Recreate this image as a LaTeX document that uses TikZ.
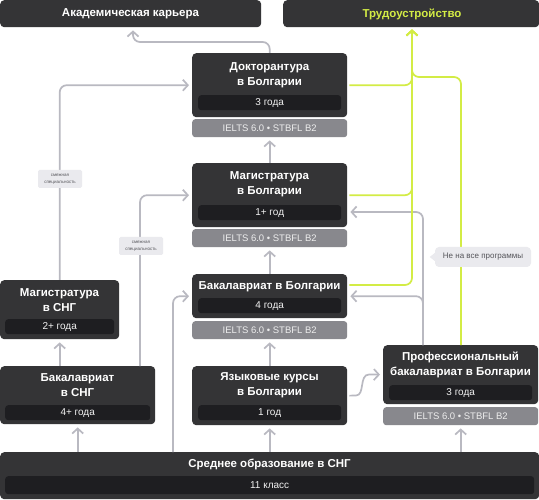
\documentclass[tikz,border=0pt]{standalone}
\usepackage{fontspec}
\setmainfont{Liberation Sans}
\usetikzlibrary{arrows.meta}
\definecolor{boxc}{HTML}{343436}
\definecolor{barc}{HTML}{1E1E21}
\definecolor{reqc}{HTML}{88888D}
\definecolor{reqt}{HTML}{EDEDED}
\definecolor{subt}{HTML}{F2F2F2}
\definecolor{linec}{HTML}{B9B9C1}
\definecolor{greenc}{HTML}{D3EC45}
\definecolor{notec}{HTML}{EAEAEE}
\definecolor{notet}{HTML}{55555A}
\tikzset{
  box/.style={fill=boxc, rounded corners=4pt, inner sep=0pt, anchor=north west},
  bar/.style={fill=barc, rounded corners=3pt, inner sep=0pt, anchor=north west, text=subt, font=\fontsize{10}{11}\selectfont},
  req/.style={fill=reqc, rounded corners=3pt, inner sep=0pt, anchor=north west, text=reqt, font=\fontsize{9.5}{10}\selectfont},
  ttl/.style={text=white, font=\bfseries\fontsize{11.5}{15}\selectfont, align=center, inner sep=0pt},
  conn/.style={draw=linec, line width=1.7pt, rounded corners=7pt, -{Straight Barb[length=5pt,width=11pt]}, shorten >=3pt},
  gconn/.style={draw=greenc, line width=1.7pt, rounded corners=7pt, -{Straight Barb[length=5pt,width=11pt]}, shorten >=2pt},
  lbl/.style={fill=notec, rounded corners=1.5pt, inner sep=0pt, text=notet, align=center, font=\fontsize{4.5}{6.5}\selectfont},
  note/.style={fill=notec, rounded corners=4pt, inner sep=0pt, text=notet, font=\fontsize{8}{9}\selectfont}
}
\begin{document}
\begin{tikzpicture}[x=1pt,y=-1pt]
\useasboundingbox[fill=white] (0,0) rectangle (539,500);
% column / row coordinates
\coordinate (x140) at (140,0);
\coordinate (x173) at (173,0);
\coordinate (x412) at (412,0);
\coordinate (x423) at (423,0);
\coordinate (x461) at (461,0);
\coordinate (y212) at (0,212);
\coordinate (y285) at (0,285);
\coordinate (y77) at (0,77);
\coordinate (k1) at (133,42);

% top boxes
\node[box, minimum width=261pt, minimum height=27pt] (acad) at (0,0) {};
\node[ttl] (acadt) at (130.5,14) {Академическая карьера};
\node[box, minimum width=256pt, minimum height=27pt] (trud) at (283,0) {};
\node[ttl, text=greenc] (trudt) at (412,14) {Трудоустройство};

% Doktorantura
\node[box, minimum width=155pt, minimum height=64pt] (dok) at (192,53) {};
\node[ttl] (dokt) at (269.5,75.5) {Докторантура\\в Болгарии};
\node[bar, minimum width=143pt, minimum height=15pt] (dokb) at (198,95) {3 года};
\node[req, minimum width=155pt, minimum height=18pt] (dokr) at (192,119) {IELTS 6.0 • STBFL B2};

% Magistratura BG
\node[box, minimum width=155pt, minimum height=64pt] (mbg) at (192,163) {};
\node[ttl] (mbgt) at (269.5,184.5) {Магистратура\\в Болгарии};
\node[bar, minimum width=143pt, minimum height=15pt] (mbgb) at (198,205) {1+ год};
\node[req, minimum width=155pt, minimum height=18pt] (mbgr) at (192,229) {IELTS 6.0 • STBFL B2};

% Bakalavriat BG
\node[box, minimum width=155pt, minimum height=44pt] (bbg) at (192,274) {};
\node[ttl] (bbgt) at (269.5,287) {Бакалавриат в Болгарии};
\node[bar, minimum width=143pt, minimum height=15pt] (bbgb) at (198,298) {4 года};
\node[req, minimum width=155pt, minimum height=18pt] (bbgr) at (192,321) {IELTS 6.0 • STBFL B2};

% Language courses
\node[box, minimum width=155pt, minimum height=59pt] (yaz) at (192,366) {};
\node[ttl] (yazt) at (269.5,385.5) {Языковые курсы\\в Болгарии};
\node[bar, minimum width=143pt, minimum height=15pt] (yazb) at (198,405) {1 год};

% Magistratura CIS
\node[box, minimum width=119pt, minimum height=59pt] (mcis) at (0,280) {};
\node[ttl] (mcist) at (59.5,300) {Магистратура\\в СНГ};
\node[bar, minimum width=109pt, minimum height=15pt] (mcisb) at (5,319) {2+ года};

% Bakalavriat CIS
\node[box, minimum width=155pt, minimum height=58pt] (bcis) at (0,366) {};
\node[ttl] (bcist) at (77.5,385.5) {Бакалавриат\\в СНГ};
\node[bar, minimum width=145pt, minimum height=15pt] (bcisb) at (5,405) {4+ года};

% Professional bachelor
\node[box, minimum width=155pt, minimum height=59pt] (prof) at (383,345) {};
\node[ttl] (proft) at (460.5,364.5) {Профессиональный\\бакалавриат в Болгарии};
\node[bar, minimum width=143pt, minimum height=15pt] (profb) at (389,385) {3 года};
\node[req, minimum width=155pt, minimum height=18pt] (profr) at (383,407) {IELTS 6.0 • STBFL B2};

% Secondary education
\node[box, minimum width=539pt, minimum height=47pt] (sred) at (0,452) {};
\node[ttl] (sredt) at (269.5,464) {Среднее образование в СНГ};
\node[bar, minimum width=529pt, minimum height=18pt] (sredb) at (5,476) {11 класс};

% gray connectors
\draw[conn] (dok.north) |- (k1) -- (k1 |- acad.south);
\draw[conn] (bcis.north -| x140) |- (mbg.west);
\draw[conn] (mcis.north) |- (dok.west);
\draw[conn] (sred.north -| x173) |- (bbg.west);
\draw[conn] (sred.north -| bcis.south) -- (bcis.south);
\draw[conn] (bcis.north -| mcis.south) -- (mcis.south);
\draw[conn] (sred.north -| yaz.south) -- (yaz.south);
\draw[conn] (yaz.north) -- (bbgr.south);
\draw[conn] (bbg.north) -- (mbgr.south);
\draw[conn] (mbg.north) -- (dokr.south);
\draw[conn] (sred.north -| profr.south) -- (profr.south);
\draw[conn, rounded corners=0pt, shorten <=2pt] (yaz.east) -- (356,395.5) .. controls (365,395.5) and (359,374.5) .. (369,374.5) -- (prof.west);
\draw[conn] (prof.north -| x423) |- (mbg.east |- y212);
\draw[conn] (prof.north -| x423) |- (bbg.east);

% green connectors
\draw[gconn, shorten <=2pt] (dok.east) -| (trud.south -| x412);
\draw[gconn, shorten <=2pt] (mbg.east) -| (trud.south -| x412);
\draw[gconn, shorten <=2pt] (bbg.east |- y285) -| (trud.south -| x412);
\draw[gconn] (prof.north -| x461) |- (y77 -| x412) -- (trud.south -| x412);

% labels
\node[lbl, minimum width=44pt, minimum height=18pt] (s1) at (60,179) {смежная\\специальность};
\node[lbl, minimum width=44pt, minimum height=18pt] (s2) at (141,246) {смежная\\специальность};
\node[note, minimum width=96pt, minimum height=20pt] (nt) at (483,257) {Не на все программы};
\fill[notec] ([yshift=4pt]nt.west) -- ([xshift=-5pt]nt.west) -- ([yshift=-4pt]nt.west) -- cycle;
\end{tikzpicture}
\end{document}
